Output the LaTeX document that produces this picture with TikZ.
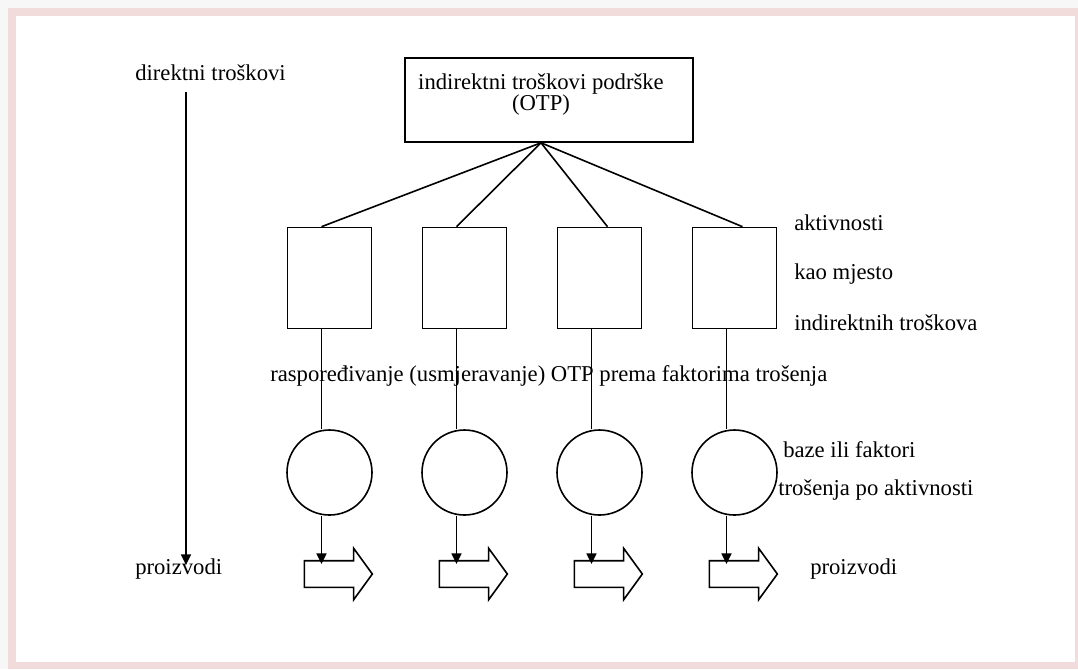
\documentclass[tikz,border=0pt]{standalone}
\usepackage{fontspec}
\setmainfont{Liberation Serif}
\usetikzlibrary{arrows.meta,calc,shapes.arrows}
\definecolor{framepink}{RGB}{242,219,219}
\definecolor{outergrey}{RGB}{247,247,247}

\begin{document}
\begin{tikzpicture}[
  x=0.75pt, y=-0.75pt,
  every node/.style={font=\fontsize{17}{15.75}\selectfont, inner sep=0pt},
  txt/.style={anchor=base west},
  costbox/.style={rectangle, draw, line width=1.2pt, minimum width=63pt, minimum height=75.75pt},
  base/.style={circle, draw, line width=1.2pt, minimum size=63.75pt},
  flow/.style={single arrow, draw, line width=1.2pt, minimum height=51pt, inner xsep=0pt, inner ysep=9.375pt,
    single arrow head extend=9.375pt, single arrow tip angle=108},
  link/.style={line width=1.2pt},
  down/.style={line width=1.2pt, -{Triangle[width=7.5pt,length=8pt]}}
]

% frame
\fill[outergrey] (0,0) rectangle (1078,669);
\fill[framepink] (8,8) rectangle (1078,669);
\fill[white] (16,16) rectangle (1075,662);

% texts
\node[txt] (direct) at (135,80) {direktni troškovi};
\node[txt] (prodleft) at (135,574) {proizvodi};
\node[txt] (prodright) at (810,574) {proizvodi};
\node[txt] (act1) at (794,230) {aktivnosti};
\node[txt] (act2) at (794,279) {kao mjesto};
\node[txt] (act3) at (794,330) {indirektnih troškova};
\node[txt] (assign) at (270,381) {raspoređivanje (usmjeravanje) OTP prema faktorima trošenja};
\node[txt] (driver1) at (783,457) {baze ili faktori};
\node[txt] (driver2) at (778,495) {trošenja po aktivnosti};

% support costs
\node[rectangle, draw, line width=1.2pt, minimum width=216pt, minimum height=63pt] (otp) at (549,100) {};
\node[align=center, anchor=base] (otptext) at (541,110) {indirektni troškovi podrške\\(OTP)};
\coordinate (apex) at ($(otp.south)+(-8,0)$);

% activities
\node[costbox] (box1) at (329.5,278) {};
\node[costbox] (box2) at (464.5,278) {};
\node[costbox] (box3) at (599.5,278) {};
\node[costbox] (box4) at (734.5,278) {};

% cost drivers
\node[base] (circ1) at (329.5,472.5) {};
\node[base] (circ2) at (464.5,472.5) {};
\node[base] (circ3) at (599.5,472.5) {};
\node[base] (circ4) at (734.5,472.5) {};

% products
\node[flow] (prod1) at (333.5,574) {};
\node[flow] (prod2) at (468.5,574) {};
\node[flow] (prod3) at (603.5,574) {};
\node[flow] (prod4) at (738.5,574) {};

% connect
\draw[link] (apex) -- ($(box1.north)+(-8,0)$);
\draw[link] (apex) -- ($(box2.north)+(-8,0)$);
\draw[link] (apex) -- ($(box3.north)+(8,0)$);
\draw[link] (apex) -- ($(box4.north)+(8,0)$);

\draw[link] ($(box1.south)+(-8,0)$) -- ($(circ1.north)+(-8,0)$);
\draw[link] ($(box2.south)+(-8,0)$) -- ($(circ2.north)+(-8,0)$);
\draw[link] ($(box3.south)+(-8,0)$) -- ($(circ3.north)+(-8,0)$);
\draw[link] ($(box4.south)+(-8,0)$) -- ($(circ4.north)+(-8,0)$);

\draw[down] ($(circ1.south)+(-8,0)$) -- ($(prod1.center)+(-12,-10)$);
\draw[down] ($(circ2.south)+(-8,0)$) -- ($(prod2.center)+(-12,-10)$);
\draw[down] ($(circ3.south)+(-8,0)$) -- ($(prod3.center)+(-12,-10)$);
\draw[down] ($(circ4.south)+(-8,0)$) -- ($(prod4.center)+(-12,-10)$);

\draw[down] ($(direct.base west)+(51,12)$) -- ($(prodleft.base west)+(51,-9)$);

\end{tikzpicture}
\end{document}
